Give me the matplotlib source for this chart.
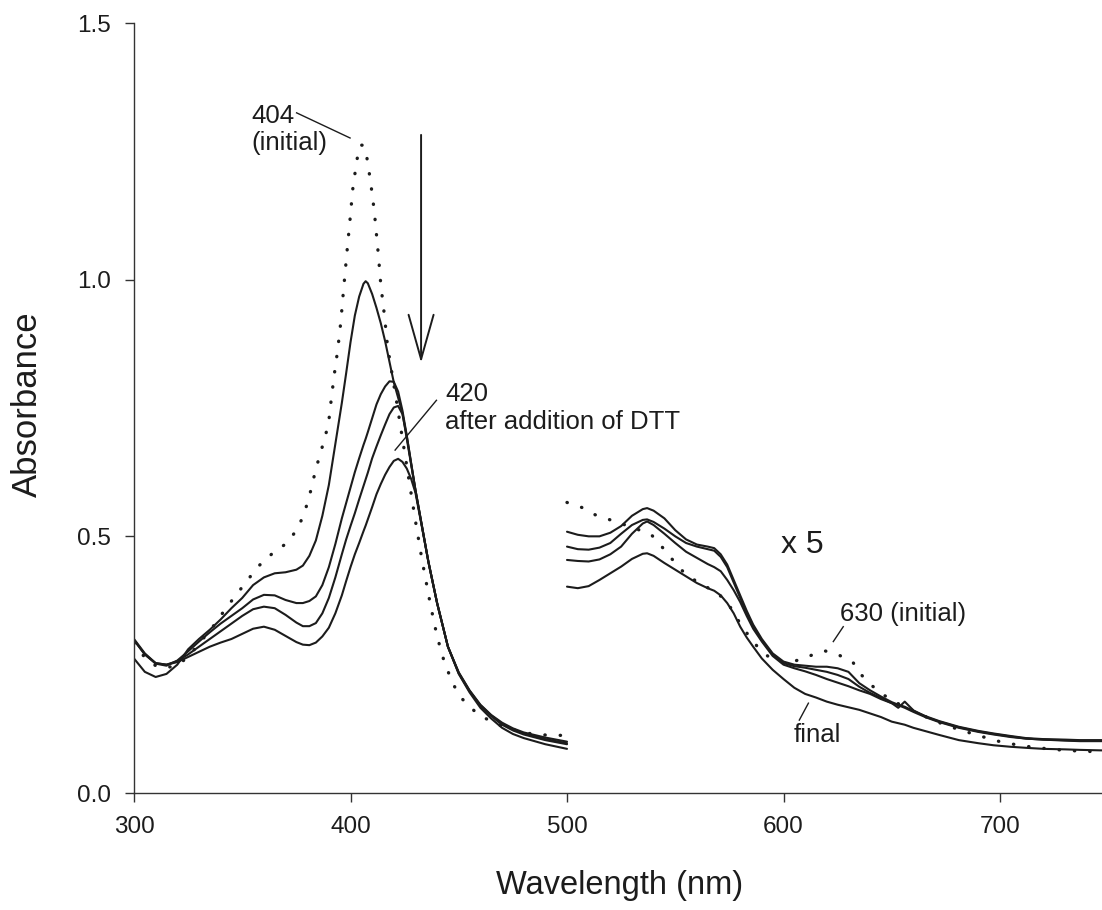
"""Absorbance spectra of the heme protein before and after addition of DTT.

Left panel (300-500 nm) at true scale, right panel (500-750 nm) magnified x5.
"""

import matplotlib
matplotlib.use("Agg")
import matplotlib.pyplot as plt


# ── data ─────────────────────────────────────────────────────────────────────

# initial spectrum (dotted), Soret region
init_left_x = [300, 305, 310, 315, 320, 325, 332, 337, 342, 347, 352, 357, 364,
               371, 376, 379, 381, 384, 387, 389.8, 391.3, 393, 394, 395.5,
               396.7, 398.5, 399.8, 401, 402.9, 404.4, 405.8, 407.2, 409.3,
               411, 412.9, 414, 415.6, 417, 418, 421, 424, 427, 430, 433, 437,
               440, 443, 447, 451, 455, 460, 470, 480, 490, 500]
init_left_a = [.292, .264, .248, .244, .249, .265, .301, .327, .357, .385, .412,
               .440, .467, .488, .518, .550, .578, .631, .675, .718, .774, .831,
               .860, .917, .976, 1.060, 1.118, 1.175, 1.232, 1.262, 1.262, 1.248,
               1.190, 1.133, 1.047, .990, .933, .875, .847, .770, .690, .610,
               .530, .455, .365, .305, .260, .215, .186, .168, .150, .130, .117,
               .113, .112]

# spectra after DTT, Soret region (common wavelength grid)
left_x = [300, 305, 310, 315, 320, 325, 330, 335, 340, 345, 350, 355, 360, 365,
          370, 375, 378, 381, 384, 387, 390, 393, 396, 398, 400, 402, 404, 406,
          407, 408, 410, 412, 414, 416, 418, 420, 422, 424, 426, 428, 430, 433,
          436, 440, 445, 450, 455, 460, 465, 470, 475, 480, 490, 500]
dtt1_left = [.262, .236, .226, .232, .250, .280, .300, .318, .338, .360, .380,
             .405, .420, .428, .430, .435, .443, .462, .492, .540, .600, .680,
             .760, .818, .878, .930, .967, .992, .997, .993, .972, .945, .915,
             .880, .840, .800, .770, .740, .690, .640, .590, .520, .450, .370,
             .285, .235, .200, .172, .152, .137, .126, .118, .108, .100]
dtt2_left = [.298, .270, .252, .248, .258, .276, .295, .313, .330, .345, .360,
             .377, .386, .385, .376, .370, .370, .374, .383, .405, .440, .485,
             .535, .565, .595, .625, .652, .678, .690, .703, .730, .757, .777,
             .792, .802, .801, .782, .745, .696, .642, .590, .520, .450, .370,
             .285, .234, .199, .171, .151, .135, .124, .116, .105, .097]
dtt3_left = [.300, .272, .253, .250, .257, .270, .285, .300, .315, .330, .345,
             .358, .363, .360, .347, .332, .325, .325, .331, .350, .380, .420,
             .465, .494, .520, .545, .572, .598, .611, .624, .652, .675, .697,
             .718, .738, .751, .754, .738, .695, .643, .590, .520, .450, .370,
             .285, .233, .198, .170, .150, .133, .122, .114, .103, .095]
dtt4_left = [.298, .270, .253, .250, .255, .265, .275, .285, .293, .300, .310,
             .320, .324, .318, .306, .294, .289, .288, .293, .305, .322, .350,
             .385, .413, .440, .465, .487, .510, .521, .533, .557, .582, .602,
             .620, .635, .647, .651, .645, .632, .612, .585, .518, .450, .370,
             .285, .232, .196, .166, .145, .127, .115, .107, .095, .086]

# initial spectrum (dotted), visible region x5
init_right_x = [500, 507, 513, 520, 527, 533, 539, 545, 550, 555, 560, 565, 570,
                575, 580, 585, 590, 595, 600, 606, 612, 619, 625, 632, 636, 640,
                645, 650, 660, 670, 680, 690, 700, 710, 720, 730, 747]
init_right_a = [.566, .556, .542, .532, .522, .513, .503, .474, .448, .425, .412,
                .400, .388, .365, .330, .300, .275, .260, .255, .258, .267, .277,
                .270, .255, .230, .212, .195, .180, .160, .140, .125, .112, .100,
                .092, .087, .083, .080]

# spectra after DTT, visible region x5
right_x = [500, 505, 510, 515, 520, 525, 530, 535, 537, 540, 545, 550, 555, 560,
           565, 568, 571, 574, 577, 580, 583, 586, 590, 595, 600, 605, 610, 615,
           620, 625, 630, 635, 640, 645, 650, 653, 656, 660, 666, 672, 681, 690,
           697, 705, 712, 720, 730, 737, 747]
dtt1_right = [.509, .503, .500, .500, .507, .520, .540, .553, .555, .550, .535,
              .512, .494, .484, .480, .477, .465, .445, .415, .385, .355, .328,
              .300, .272, .256, .250, .248, .246, .246, .243, .236, .214, .200,
              .188, .177, .172, .168, .160, .149, .140, .129, .121, .116, .111,
              .107, .105, .104, .103, .103]
dtt2_right = [.480, .475, .474, .478, .487, .505, .522, .532, .533, .528, .515,
              .500, .487, .480, .475, .472, .460, .440, .410, .380, .350, .325,
              .297, .270, .253, .247, .244, .240, .236, .230, .222, .207, .195,
              .185, .175, .166, .178, .161, .148, .139, .128, .120, .115, .110,
              .106, .104, .103, .102, .102]
dtt3_right = [.454, .452, .451, .455, .465, .480, .505, .525, .529, .522, .505,
              .487, .470, .458, .446, .440, .432, .415, .395, .372, .345, .320,
              .295, .267, .250, .243, .237, .230, .222, .215, .208, .200, .193,
              .183, .175, .171, .166, .158, .147, .138, .127, .119, .114, .109,
              .106, .104, .102, .101, .101]
dtt4_right = [.402, .399, .403, .415, .428, .441, .456, .466, .467, .462, .448,
              .435, .422, .409, .399, .394, .385, .370, .350, .324, .303, .285,
              .262, .240, .222, .205, .193, .186, .178, .172, .167, .162, .155,
              .148, .139, .136, .133, .127, .120, .113, .103, .097, .093, .090,
              .088, .086, .085, .084, .083]

X_TICKS = [300, 400, 500, 600, 700]
Y_TICKS = [0.0, 0.5, 1.0, 1.5]


# ── style ─────────────────────────────────────────────────────────────────────

INK = "#1c1c1c"
plt.rcParams["font.family"] = ["Liberation Sans", "DejaVu Sans"]

SOLID = dict(color=INK, lw=1.5, solid_capstyle="round", solid_joinstyle="round")
DOTS = dict(color=INK, lw=2.4, ls=(0, (0.1, 4.5)), dash_capstyle="round")


def _leader(ax, x0, y0, x1, y1):
    ax.plot([x0, x1], [y0, y1], color=INK, lw=1.0)


def main():
    fig = plt.figure(figsize=(11.02, 9.10), dpi=100)
    ax = fig.add_axes([134 / 1102, 117 / 910, 968 / 1102, 770 / 910])

    # Soret region
    ax.plot(init_left_x, init_left_a, **DOTS)
    for y in (dtt1_left, dtt2_left, dtt3_left, dtt4_left):
        ax.plot(left_x, y, **SOLID)

    # visible region (x5)
    ax.plot(init_right_x, init_right_a, **DOTS)
    for y in (dtt1_right, dtt2_right, dtt3_right, dtt4_right):
        ax.plot(right_x, y, **SOLID)

    # annotations
    txt = dict(color=INK, fontsize=18.5)
    ax.text(354.3, 1.343, "404\n(initial)", ha="left", va="top", **txt)
    _leader(ax, 375.1, 1.325, 399.8, 1.276)

    ax.text(443.6, 0.801, "420\nafter addition of DTT", ha="left", va="top", **txt)
    _leader(ax, 439.7, 0.765, 420.6, 0.668)

    ax.text(608.9, 0.468, "x 5", ha="center", va="baseline",
            color=INK, fontsize=23)

    ax.text(626.1, 0.372, "630 (initial)", ha="left", va="top", **txt)
    _leader(ax, 627.6, 0.324, 623.0, 0.295)

    ax.text(604.5, 0.136, "final", ha="left", va="top", **txt)
    _leader(ax, 607.3, 0.142, 611.5, 0.175)

    ax.annotate("", xy=(432.6, 0.838), xytext=(432.6, 1.282),
                arrowprops=dict(arrowstyle="->,head_length=1.6,head_width=0.45",
                                color=INK, lw=1.4, shrinkA=0, shrinkB=0,
                                mutation_scale=20))

    # axes
    ax.set_xlim(300, 300 + 968 / 2.165)
    ax.set_ylim(0, 1.5)
    ax.set_xticks(X_TICKS)
    ax.set_yticks(Y_TICKS)
    ax.set_yticklabels([f"{v:.1f}" for v in Y_TICKS])
    for side in ("top", "right"):
        ax.spines[side].set_visible(False)
    for side in ("left", "bottom"):
        ax.spines[side].set_color("#333333")
        ax.spines[side].set_linewidth(1.0)
    ax.tick_params(direction="out", length=6.5, width=1.0, color="#333333",
                   labelsize=17.5, labelcolor=INK, pad=10)

    ax.set_xlabel("Wavelength (nm)", fontsize=23.5, color=INK)
    ax.set_ylabel("Absorbance", fontsize=25, color=INK)
    ax.xaxis.set_label_coords(0.502, -0.1005)
    ax.yaxis.set_label_coords(-0.093, 0.505)

    fig.savefig("out.png", dpi=100, facecolor="white")


if __name__ == "__main__":
    main()
